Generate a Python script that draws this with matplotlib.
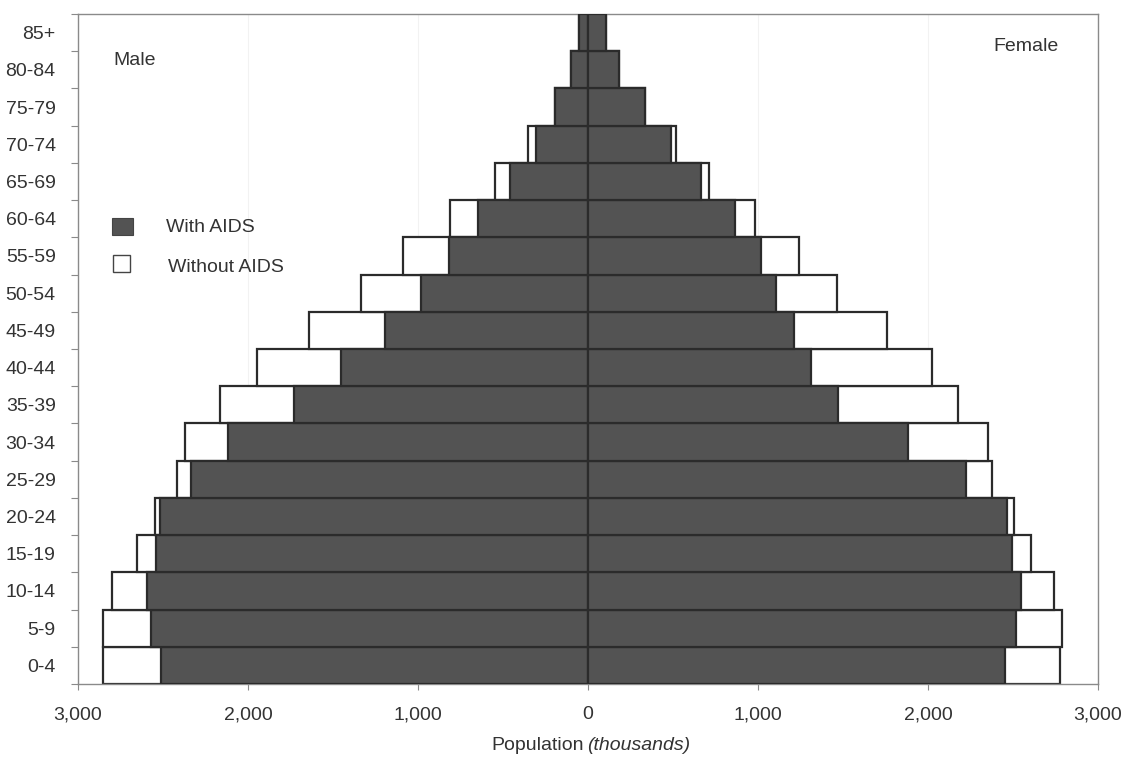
import matplotlib
matplotlib.use("Agg")
import matplotlib.pyplot as plt
from matplotlib.patches import Rectangle
from matplotlib.ticker import FuncFormatter, FixedLocator

plt.rcParams["font.family"] = ["Liberation Sans", "DejaVu Sans"]

# Age groups, bottom to top
ages = ["0-4", "5-9", "10-14", "15-19", "20-24", "25-29", "30-34", "35-39", "40-44",
        "45-49", "50-54", "55-59", "60-64", "65-69", "70-74", "75-79", "80-84", "85+"]

# Population in thousands
male_with = [2512, 2571, 2594, 2541, 2518, 2335, 2118, 1729, 1453,
             1194, 982, 818, 647, 459, 306, 194, 100, 53]
male_without = [2853, 2853, 2800, 2653, 2547, 2418, 2371, 2165, 1947,
                1641, 1335, 1088, 812, 547, 353, 194, 100, 53]
female_with = [2453, 2518, 2547, 2494, 2465, 2224, 1882, 1471, 1312,
               1212, 1106, 1018, 865, 665, 488, 335, 182, 106]
female_without = [2776, 2788, 2741, 2606, 2506, 2376, 2353, 2176, 2024,
                  1759, 1465, 1241, 982, 712, 518, 335, 182, 106]

dark = "#535353"
edge = "#2b2b2b"
txt = "#333333"
spine = "#8a8a8a"
lw = 1.6

fig = plt.figure(figsize=(11.25, 7.58), dpi=100)
ax = fig.add_axes([0.0693, 0.0976, 0.9067, 0.8839])

y = list(range(len(ages)))

# white "without AIDS" bars behind, dark "with AIDS" bars in front
ax.barh(y, [-v for v in male_without], height=1.0, color="white", edgecolor=edge, linewidth=lw, zorder=2)
ax.barh(y, female_without, height=1.0, color="white", edgecolor=edge, linewidth=lw, zorder=2)
ax.barh(y, [-v for v in male_with], height=1.0, color=dark, edgecolor=edge, linewidth=lw, zorder=3)
ax.barh(y, female_with, height=1.0, color=dark, edgecolor=edge, linewidth=lw, zorder=3)

ax.set_xlim(-3000, 3000)
ax.set_ylim(-0.5, len(ages) - 0.5)

ax.set_xticks(range(-3000, 3001, 1000))
ax.xaxis.set_major_formatter(FuncFormatter(lambda v, p: "{:,}".format(int(abs(v)))))
ax.tick_params(axis="x", length=4, width=0.8, color=spine, labelsize=14, labelcolor=txt, pad=12)

ax.set_yticks(y)
ax.set_yticklabels(ages)
ax.yaxis.set_minor_locator(FixedLocator([i + 0.5 for i in range(-1, len(ages))]))
ax.tick_params(axis="y", which="major", length=0, labelsize=14, labelcolor=txt, pad=16)
ax.tick_params(axis="y", which="minor", length=5, width=0.8, color=spine)

ax.grid(True, axis="x", color="#f2f2f2", linewidth=0.8, zorder=0)
ax.set_axisbelow(True)

for s in ax.spines.values():
    s.set_color(spine)
    s.set_linewidth(1.0)

# x axis title, second half in italics
ax.text(0.4955, -0.0925, "Population", transform=ax.transAxes, fontsize=14, color=txt,
        ha="right", va="center")
ax.text(0.4995, -0.0925, "(thousands)", transform=ax.transAxes, fontsize=14, color=txt,
        ha="left", va="center", fontstyle="italic")

ax.text(0.0343, 0.931, "Male", transform=ax.transAxes, fontsize=14, color=txt, va="center", ha="left")
ax.text(0.897, 0.951, "Female", transform=ax.transAxes, fontsize=14, color=txt, va="center", ha="left")

# legend
ax.add_patch(Rectangle((0.0333, 0.670), 0.0206, 0.0254, transform=ax.transAxes,
                       facecolor=dark, edgecolor="#444444", linewidth=0.8, zorder=5))
ax.add_patch(Rectangle((0.0343, 0.615), 0.0167, 0.0254, transform=ax.transAxes,
                       facecolor="white", edgecolor="#444444", linewidth=1.0, zorder=5))
ax.text(0.0863, 0.681, "With AIDS", transform=ax.transAxes, fontsize=14, color=txt, va="center", ha="left")
ax.text(0.0882, 0.622, "Without AIDS", transform=ax.transAxes, fontsize=14, color=txt, va="center", ha="left")

fig.savefig("out.png", dpi=100)
